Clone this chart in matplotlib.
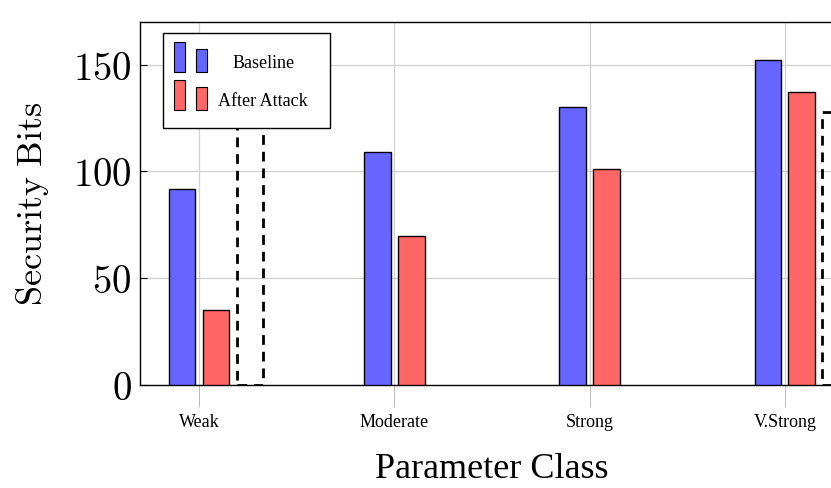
import matplotlib.pyplot as plt
from matplotlib.patches import Rectangle
import numpy as np

plt.rcParams['mathtext.fontset'] = 'cm'

classes = ['Weak', 'Moderate', 'Strong', 'V.Strong']
baseline = [92, 109, 130, 152]
after_attack = [35, 70, 101, 137]
target = [128, np.nan, np.nan, 128]

blue = '#6666ff'
red = '#ff6666'
serif = 'Liberation Serif'

fig = plt.figure(figsize=(8.31, 4.88), dpi=100)
ax = fig.add_axes([0.1685, 0.2111, 0.8471, 0.7438])

x = np.arange(len(classes))
w = 0.138
off = 0.087
ax.bar(x - off, baseline, w, color=blue, edgecolor='black', linewidth=1.0, zorder=3)
ax.bar(x + off, after_attack, w, color=red, edgecolor='black', linewidth=1.0, zorder=3)
ax.bar(x + 3 * off, target, w, fill=False, edgecolor='black', linewidth=2.0,
       linestyle=(0, (3.5, 2.5)), zorder=3)

ax.set_xlim(-0.302, 3.302)
ax.set_ylim(0, 170)
ax.set_yticks([0, 50, 100, 150])
ax.set_yticklabels([r'$%d$' % v for v in [0, 50, 100, 150]], fontsize=28)
ax.set_xticks(x)
ax.set_xticklabels(classes, fontsize=13, family=serif)
ax.tick_params(axis='y', direction='in', length=5, width=0.8, pad=6)
ax.tick_params(axis='x', direction='out', length=16, width=0.6, color='#b0b0b0', pad=5)
ax.grid(True, color='#d0d0d0', linewidth=0.9, zorder=0)
ax.set_axisbelow(True)
for s in ax.spines.values():
    s.set_linewidth(1.0)
    s.set_color('black')

ax.set_ylabel(r'$\mathrm{Security\ Bits}$', fontsize=26, labelpad=16)
ax.set_xlabel('Parameter Class', fontsize=26, family=serif, labelpad=16)

# legend box with paired bar icons
t = ax.transAxes
ax.add_patch(Rectangle((0.0327, 0.708), 0.2375, 0.262, transform=t, facecolor='white',
                       edgecolor='black', linewidth=1.0, zorder=5))
for y0, col, label, tx in [(0.862, blue, 'Baseline', 0.175), (0.757, red, 'After Attack', 0.175)]:
    ax.add_patch(Rectangle((0.048, y0), 0.0155, 0.083, transform=t, facecolor=col,
                           edgecolor='black', linewidth=0.8, zorder=6))
    ax.add_patch(Rectangle((0.080, y0), 0.0155, 0.063, transform=t, facecolor=col,
                           edgecolor='black', linewidth=0.8, zorder=6))
    ax.text(tx, y0 + 0.024, label, transform=t, fontsize=13, family=serif,
            ha='center', va='center', zorder=7)

fig.savefig('out.png', dpi=100)
